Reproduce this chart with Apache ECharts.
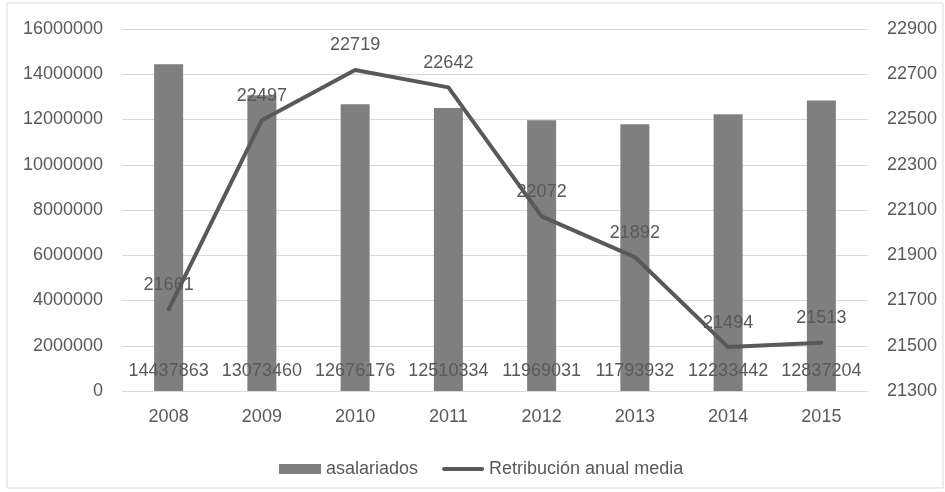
<!DOCTYPE html>
<html lang="es">
<head>
<meta charset="UTF-8">
<title>asalariados / Retribución anual media</title>
<script src="https://cdn.jsdelivr.net/npm/echarts@6/dist/echarts.min.js"></script>
<style>
  html, body { margin: 0; padding: 0; background: #fff; }
  #chart { width: 945px; height: 492px; }
</style>
</head>
<body>
<div id="chart"></div>
<script>
// datos
const years = ['2008', '2009', '2010', '2011', '2012', '2013', '2014', '2015']
const asalariados = [14437863, 13073460, 12676176, 12510334, 11969031, 11793932, 12233442, 12837204]
const retribucion = [21661, 22497, 22719, 22642, 22072, 21892, 21494, 21513]

const textColor = '#595959'
const gridColor = '#d9d9d9'
const fontFamily = 'Liberation Sans, Arial, sans-serif'
const fs = 18

const chart = echarts.init(document.getElementById('chart'))

chart.setOption({
  animation: false,
  textStyle: { fontFamily: fontFamily, color: textColor },
  graphic: [{
    type: 'rect',
    shape: { x: 7, y: 3, width: 936, height: 485 },
    style: { fill: 'none', stroke: gridColor, lineWidth: 1 },
    silent: true
  }],
  grid: { left: 122, right: 77, top: 29, bottom: 101 },
  legend: {
    left: 274,
    top: 455,
    itemWidth: 42,
    itemHeight: 10,
    itemGap: 24,
    textStyle: { fontSize: fs, color: textColor, fontFamily: fontFamily },
    data: [
      { name: 'asalariados', icon: 'rect' },
      { name: 'Retribución anual media', icon: 'path://M2,0 L40,0 Q42,0 42,2 Q42,4 40,4 L2,4 Q0,4 0,2 Q0,0 2,0 Z' }
    ]
  },
  xAxis: {
    type: 'category',
    data: years,
    axisTick: { show: false },
    axisLine: { lineStyle: { color: gridColor, width: 1 } },
    axisLabel: { color: textColor, fontSize: fs, margin: 17 }
  },
  yAxis: [{
    type: 'value',
    min: 0,
    max: 16000000,
    interval: 2000000,
    axisLine: { show: false },
    axisTick: { show: false },
    splitLine: { lineStyle: { color: gridColor, width: 1 } },
    axisLabel: {
      color: textColor,
      fontSize: fs,
      margin: 19,
      formatter: function (v) { return String(v) }
    }
  }, {
    type: 'value',
    min: 21300,
    max: 22900,
    interval: 100,
    position: 'right',
    axisLine: { show: false },
    axisTick: { show: false },
    splitLine: { show: false },
    axisLabel: {
      color: textColor,
      fontSize: fs,
      margin: 19,
      formatter: function (v) {
        return (v - 21300) % 200 === 0 ? String(v) : ''
      }
    }
  }],
  series: [{
    name: 'asalariados',
    type: 'bar',
    data: asalariados,
    barWidth: 29,
    itemStyle: { color: '#7f7f7f' },
    label: {
      show: true,
      position: 'insideBottom',
      distance: 11,
      color: textColor,
      fontSize: fs,
      fontFamily: fontFamily
    }
  }, {
    name: 'Retribución anual media',
    type: 'line',
    yAxisIndex: 1,
    data: retribucion,
    symbol: 'circle',
    symbolSize: 1,
    lineStyle: { color: '#595959', width: 4, cap: 'round', join: 'round' },
    itemStyle: { color: '#595959' },
    label: {
      show: true,
      position: 'top',
      distance: 15,
      color: textColor,
      fontSize: fs,
      fontFamily: fontFamily
    },
    z: 3
  }]
})
</script>
</body>
</html>
